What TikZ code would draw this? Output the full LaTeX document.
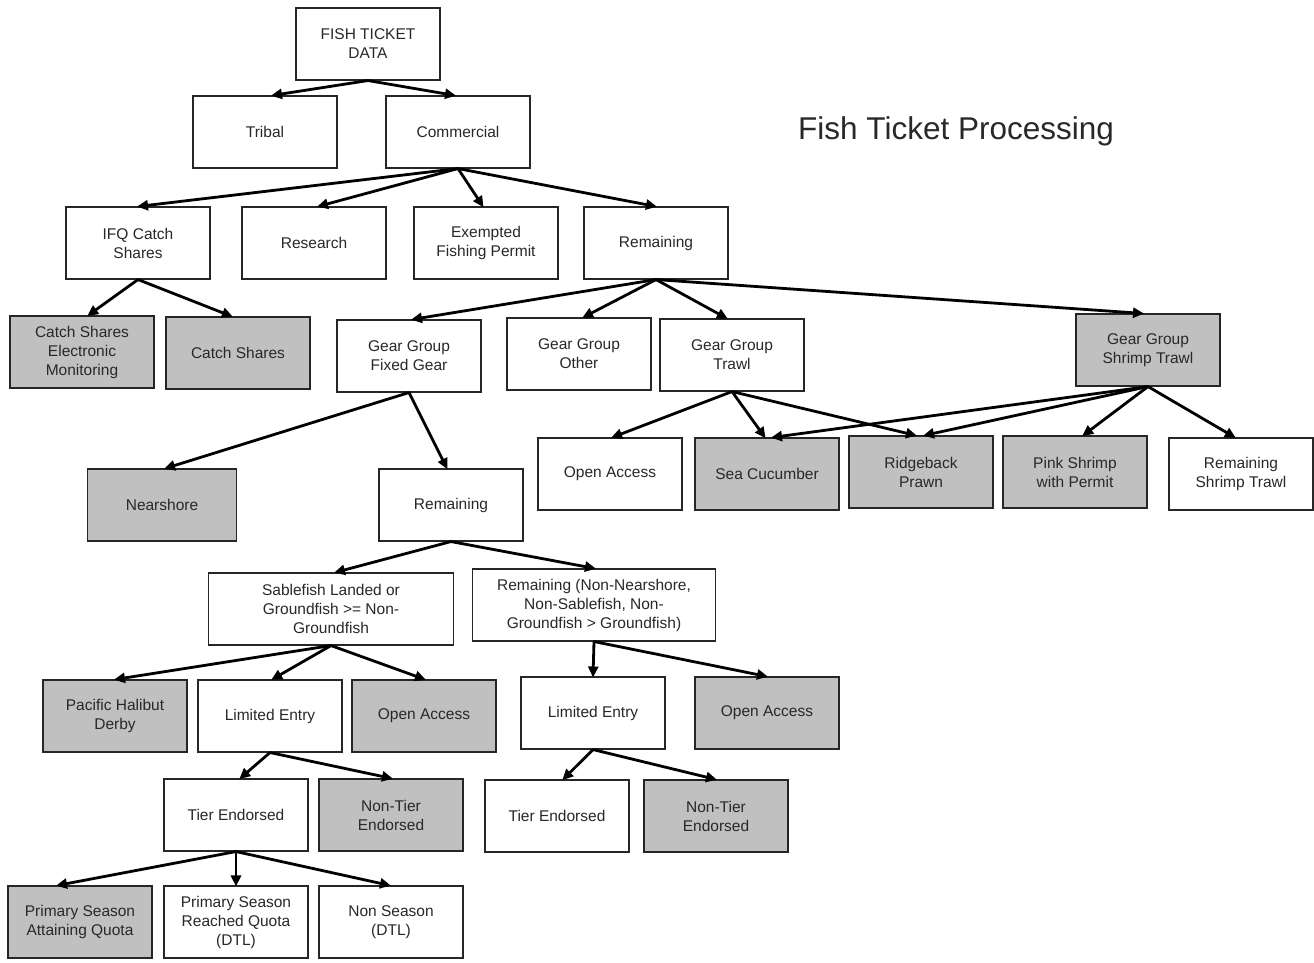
\documentclass[tikz,border=0pt]{standalone}
\usepackage{fontspec}
\setmainfont{Liberation Sans}
\usetikzlibrary{arrows.meta}
\definecolor{boxgray}{RGB}{192,192,192}
\definecolor{txt}{RGB}{40,40,40}
\tikzset{
  box/.style={draw=black!85, line width=1.1pt, fill=white, minimum width=144pt, minimum height=72pt,
    inner sep=0pt, align=center, font=\fontsize{15.5}{19}\selectfont, text=txt},
  gbox/.style={box, fill=boxgray},
  wide/.style={minimum width=245pt},
  arr/.style={line width=2.8pt, black, -{Triangle[length=11pt,width=10pt]}, shorten >=-1pt}
}
\begin{document}
\begin{tikzpicture}[x=1pt,y=-1pt]
\useasboundingbox (0,0) rectangle (1314,962);
% title
\node[font=\fontsize{31.5}{36}\selectfont, text=txt] (title) at (956,131) {Fish Ticket Processing};
% level 0-1
\node[box] (root) at (368,44) {FISH TICKET\\DATA};
\node[box] (tribal) at (265,132) {Tribal};
\node[box] (comm) at (458,132) {Commercial};
% level 2
\node[box] (ifq) at (138,243) {IFQ Catch\\Shares};
\node[box] (res) at (314,243) {Research};
\node[box] (efp) at (486,243) {Exempted\\Fishing Permit};
\node[box] (rem1) at (656,243) {Remaining};
% level 3
\node[gbox] (csem) at (82,352) {Catch Shares\\Electronic\\Monitoring};
\node[gbox] (cs) at (238,353) {Catch Shares};
\node[box] (fixed) at (409,356) {Gear Group\\Fixed Gear};
\node[box] (other) at (579,354) {Gear Group\\Other};
\node[box] (trawl) at (732,355) {Gear Group\\Trawl};
\node[gbox] (shrimp) at (1148,350) {Gear Group\\Shrimp Trawl};
% level 4 right
\node[box] (oa1) at (610,474) {Open Access};
\node[gbox] (seacuc) at (767,474) {Sea Cucumber};
\node[gbox] (ridge) at (921,472) {Ridgeback\\Prawn};
\node[gbox] (pink) at (1075,472) {Pink Shrimp\\with Permit};
\node[box] (remst) at (1241,474) {Remaining\\Shrimp Trawl};
% fixed gear branch
\node[gbox, minimum width=149pt] (near) at (162,505) {Nearshore};
\node[box] (rem2) at (451,505) {Remaining};
\node[box, wide] (sable) at (331,609) {Sablefish Landed or\\Groundfish >= Non-\\Groundfish};
\node[box, minimum width=243pt] (remnn) at (594,605) {Remaining (Non-Nearshore,\\Non-Sablefish, Non-\\Groundfish > Groundfish)};
\node[gbox] (phd) at (115,716) {Pacific Halibut\\Derby};
\node[box] (le1) at (270,716) {Limited Entry};
\node[gbox] (oa2) at (424,716) {Open Access};
\node[box] (le2) at (593,713) {Limited Entry};
\node[gbox] (oa3) at (767,713) {Open Access};
\node[box] (te1) at (236,815) {Tier Endorsed};
\node[gbox] (nte1) at (391,815) {Non-Tier\\Endorsed};
\node[box] (te2) at (557,816) {Tier Endorsed};
\node[gbox] (nte2) at (716,816) {Non-Tier\\Endorsed};
\node[gbox] (psaq) at (80,922) {Primary Season\\Attaining Quota};
\node[box] (psrq) at (236,922) {Primary Season\\Reached Quota\\(DTL)};
\node[box] (ns) at (391,922) {Non Season\\(DTL)};
% arrows
\draw[arr] (root.south) -- ([xshift=7pt]tribal.north);
\draw[arr] (root.south) -- ([xshift=-3pt]comm.north);
\draw[arr] (comm.south) -- (ifq.north);
\draw[arr] (comm.south) -- ([xshift=4pt]res.north);
\draw[arr] (comm.south) -- ([xshift=-3pt]efp.north);
\draw[arr] (comm.south) -- (rem1.north);
\draw[arr] (ifq.south) -- ([xshift=6pt]csem.north);
\draw[arr] (ifq.south) -- ([xshift=-6pt]cs.north);
\draw[arr] (rem1.south) -- ([xshift=3pt]fixed.north);
\draw[arr] (rem1.south) -- ([xshift=4pt]other.north);
\draw[arr] (rem1.south) -- ([xshift=-5pt]trawl.north);
\draw[arr] (rem1.south) -- ([xshift=-5pt]shrimp.north);
\draw[arr] (trawl.south) -- ([xshift=2pt]oa1.north);
\draw[arr] (trawl.south) -- ([xshift=-2pt]seacuc.north);
\draw[arr] (trawl.south) -- ([xshift=-5pt]ridge.north);
\draw[arr] (shrimp.south) -- ([xshift=5pt]seacuc.north);
\draw[arr] (shrimp.south) -- ([xshift=3pt]ridge.north);
\draw[arr] (shrimp.south) -- ([xshift=8pt]pink.north);
\draw[arr] (shrimp.south) -- ([xshift=-6pt]remst.north);
\draw[arr] (fixed.south) -- ([xshift=3pt]near.north);
\draw[arr] (fixed.south) -- ([xshift=-4pt]rem2.north);
\draw[arr] (rem2.south) -- ([xshift=4pt]sable.north);
\draw[arr] (rem2.south) -- ([xshift=1pt]remnn.north);
\draw[arr] (sable.south) -- (phd.north);
\draw[arr] (sable.south) -- ([xshift=2pt]le1.north);
\draw[arr] (sable.south) -- ([xshift=1pt]oa2.north);
\draw[arr] (remnn.south) -- (le2.north);
\draw[arr] (remnn.south) -- (oa3.north);
\draw[arr] (le1.south) -- ([xshift=4pt]te1.north);
\draw[arr] (le1.south) -- ([xshift=1pt]nte1.north);
\draw[arr] (le2.south) -- ([xshift=6pt]te2.north);
\draw[arr] (le2.south) -- (nte2.north);
\draw[arr] (te1.south) -- ([xshift=-23pt]psaq.north);
\draw[arr] (te1.south) -- (psrq.north);
\draw[arr] (te1.south) -- ([xshift=-1pt]ns.north);
\end{tikzpicture}
\end{document}
